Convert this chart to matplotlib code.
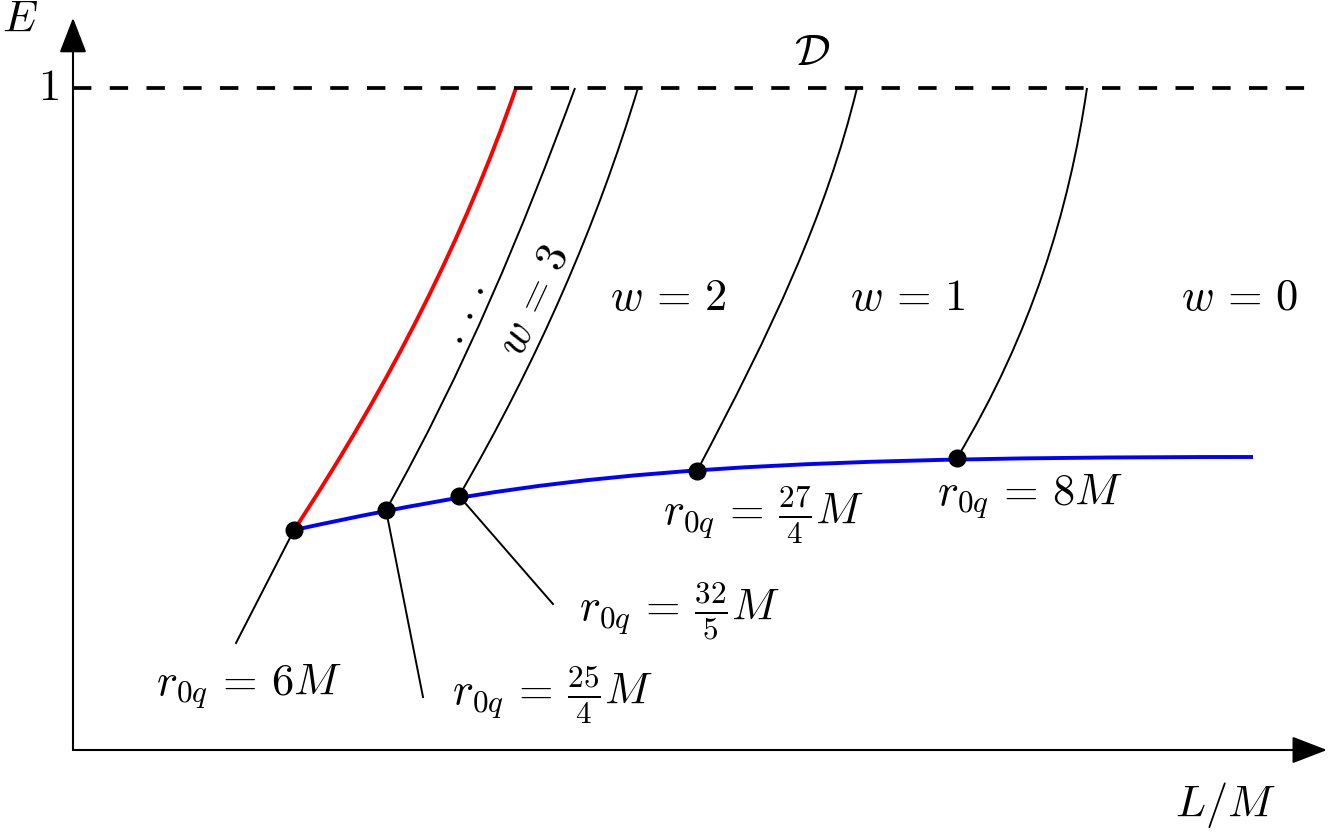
import numpy as np
import matplotlib
matplotlib.use("Agg")
import matplotlib.pyplot as plt
from matplotlib.path import Path
from matplotlib.patches import PathPatch

plt.rcParams['mathtext.fontset'] = 'cm'

# each curve: cubic Bezier (start, control, control, end) in (L/M, E)
blue_L = [2.21, 4.71, 6.30, 11.80]
blue_E = [0.3323, 0.4144, 0.4426, 0.4426]

red_L = [2.21, 3.18, 3.92, 4.43]
red_E = [0.3323, 0.5544, 0.7779, 1.0]

# black separatrices, from the blue curve up to E = 1
sep_L = [
    [3.13, 3.92, 4.50, 5.02],
    [3.86, 4.65, 5.24, 5.65],
    [6.24, 6.98, 7.53, 7.84],
    [8.84, 9.58, 9.96, 10.14],
]
sep_E = [
    [0.3625, 0.5755, 0.7870, 1.0],
    [0.3837, 0.5891, 0.7946, 1.0],
    [0.4215, 0.6329, 0.8066, 1.0],
    [0.4411, 0.6269, 0.8142, 1.0],
]

dot_L = [2.21, 3.13, 3.86, 6.24, 8.84]
dot_E = [0.3323, 0.3625, 0.3837, 0.4215, 0.4411]

# leader lines going down from the first three dots
lead_end_L = [1.63, 3.50, 4.80]
lead_end_E = [0.1616, 0.080, 0.2205]

r0q_labels = [r'$r_{0q}\,=\,6M$', r'$r_{0q}\,=\,\frac{25}{4}M$', r'$r_{0q}\,=\,\frac{32}{5}M$',
              r'$r_{0q}\,=\,\frac{27}{4}M$', r'$r_{0q}\,=\,8M$']
r0q_L = [1.76, 4.79, 6.06, 6.90, 9.57]
r0q_E = [0.095, 0.083, 0.2085, 0.355, 0.382]

w_labels = [r'$w\,=\,2$', r'$w\,=\,1$', r'$w\,=\,0$']
w_L = [5.95, 8.35, 11.67]
w_E = [0.683, 0.683, 0.683]


def bezier(ax, Ls, Es, color, lw):
    verts = list(zip(Ls, Es))
    codes = [Path.MOVETO, Path.CURVE4, Path.CURVE4, Path.CURVE4]
    ax.add_patch(PathPatch(Path(verts, codes), facecolor='none', edgecolor=color,
                           lw=lw, capstyle='butt'))


fig = plt.figure(figsize=(13.29, 8.38), dpi=100)
ax = fig.add_axes([73/1329, 88/838, 1256/1329, 750/838])
ax.set_xlim(0, 12.56)
ax.set_ylim(0, 750/662)
ax.axis('off')

fs = 32

# axes with arrows
arr = dict(arrowstyle='-|>,head_length=2.2,head_width=0.85', lw=1.5, color='black',
           mutation_scale=10, shrinkA=0, shrinkB=0)
ax.annotate('', xy=(0, 1.106), xytext=(0, 0), arrowprops=arr, annotation_clip=False)
ax.annotate('', xy=(12.54, 0), xytext=(0, 0), arrowprops=arr, annotation_clip=False)

# E = 1 dashed line
ax.plot([0, 12.37], [1, 1], color='black', lw=2.7, linestyle=(0, (4.9, 4.9)),
        dash_capstyle='butt', clip_on=False)

for Ls, Es in zip(sep_L, sep_E):
    bezier(ax, Ls, Es, 'black', 1.4)
for i in range(3):
    ax.plot([dot_L[i], lead_end_L[i]], [dot_E[i], lead_end_E[i]], color='black', lw=1.4)

bezier(ax, blue_L, blue_E, '#0000ff', 2.8)
bezier(ax, red_L, red_E, '#ff0000', 2.8)
ax.plot(dot_L, dot_E, 'o', color='black', ms=12, zorder=5)

for lab, x, y in zip(r0q_labels, r0q_L, r0q_E):
    ax.text(x, y, lab, fontsize=fs, ha='center', va='center')
for lab, x, y in zip(w_labels, w_L, w_E):
    ax.text(x, y, lab, fontsize=fs, ha='center', va='center')
ax.text(4.61, 0.680, r'$w\,=\,3$', fontsize=fs, ha='center', va='center', rotation=65)
ax.text(3.88, 0.660, r'$.\,.\,.$', fontsize=fs, ha='center', va='center', rotation=67)

ax.text(7.39, 1.054, r'$\mathcal{D}$', fontsize=fs, ha='center', va='center')
ax.text(-0.25, 1.0, r'$1$', fontsize=fs, ha='center', va='center', clip_on=False)
ax.text(-0.53, 1.104, r'$E$', fontsize=fs, ha='center', va='center', clip_on=False)
ax.text(11.52, -0.083, r'$L/M$', fontsize=fs, ha='center', va='center', clip_on=False)

fig.savefig('out.png', dpi=100)
